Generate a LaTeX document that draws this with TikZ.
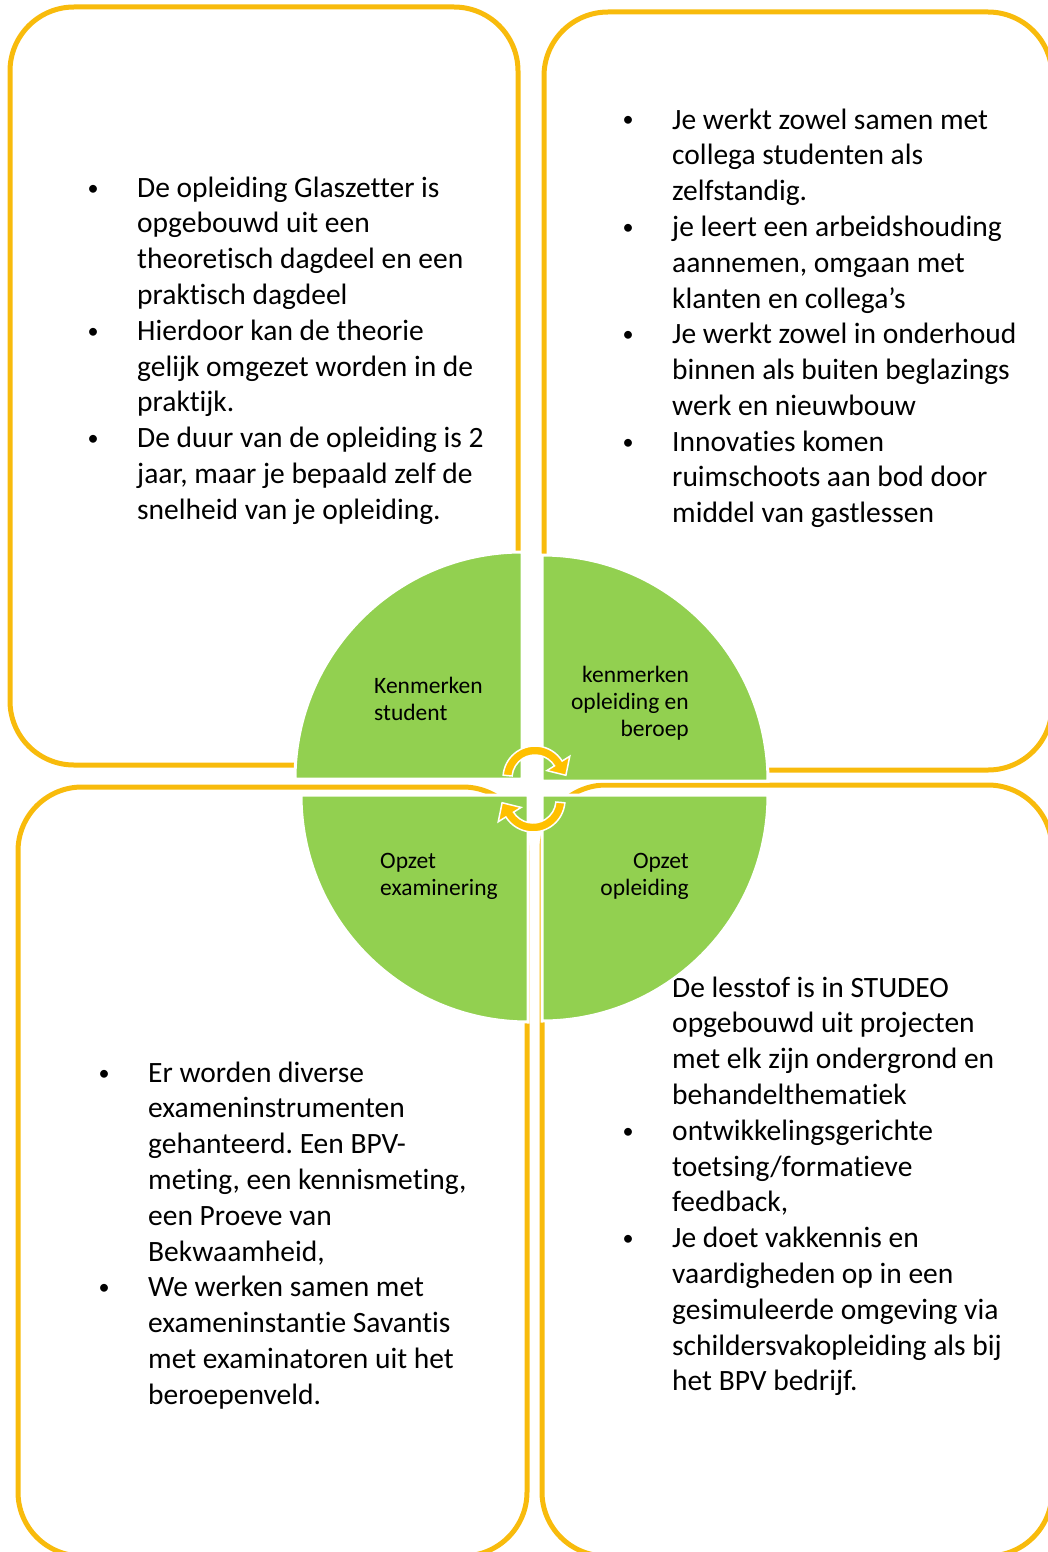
\documentclass[tikz,border=0pt]{standalone}
\usepackage{fontspec}
\setmainfont{Carlito}[Ligatures=NoCommon]
\usetikzlibrary{calc}
\definecolor{rim}{RGB}{248,187,12}
\definecolor{leaf}{HTML}{92D050}
\definecolor{turnc}{HTML}{FFC000}
\newcommand{\bul}{\makebox[88pt]{\raisebox{2pt}{\scalebox{0.75}{\textbullet}}}}
\frenchspacing

\begin{document}
\begin{tikzpicture}[x=1pt, y=-1pt,
    panel/.style={draw=rim, line width=5pt, rounded corners=64pt},
    body/.style={inner sep=0pt, font=\fontsize{29.5}{35.8}\selectfont},
    quarter/.style={fill=leaf, draw=white, line width=3pt},
    tag/.style={inner sep=0pt, font=\fontsize{23.5}{27}\selectfont},
    turn/.style={fill=turnc, draw=white, line width=1.5pt}]
    \useasboundingbox (0,0) rectangle (1048,1552);
    \clip (0,0) rectangle (1048,1552);

    \draw[panel] (10,7) rectangle (518,765);
    \draw[panel] (544,12) rectangle (1052,770);
    \draw[panel] (18,787) rectangle (527,1556);
    \draw[panel] (542,785) rectangle (1052,1556);

    \node[body, anchor=base west] (1) at (49,197) {\begin{tabular}[t]{@{}l@{}l@{}}
      \bul & De opleiding Glaszetter is\\
           & opgebouwd uit een\\
           & theoretisch dagdeel en een\\
           & praktisch dagdeel\\
      \bul & Hierdoor kan de theorie\\
           & gelijk omgezet worden in de\\
           & praktijk.\\
      \bul & De duur van de opleiding is 2\\
           & jaar, maar je bepaald zelf de\\
           & snelheid van je opleiding.
    \end{tabular}};
    \node[body, anchor=base west] (2) at (584,129) {\begin{tabular}[t]{@{}l@{}l@{}}
      \bul & Je werkt zowel samen met\\
           & collega studenten als\\
           & zelfstandig.\\
      \bul & je leert een arbeidshouding\\
           & aannemen, omgaan met\\
           & klanten en collega’s\\
      \bul & Je werkt zowel in onderhoud\\
           & binnen als buiten beglazings\\
           & werk en nieuwbouw\\
      \bul & Innovaties komen\\
           & ruimschoots aan bod door\\
           & middel van gastlessen
    \end{tabular}};
    \node[body, anchor=base west] (3) at (60,1082) {\begin{tabular}[t]{@{}l@{}l@{}}
      \bul & Er worden diverse\\
           & exameninstrumenten\\
           & gehanteerd. Een BPV-\\
           & meting, een kennismeting,\\
           & een Proeve van\\
           & Bekwaamheid,\\
      \bul & We werken samen met\\
           & exameninstantie Savantis\\
           & met examinatoren uit het\\
           & beroepenveld.
    \end{tabular}};
    \node[body, anchor=base west] (4) at (584,997) {\begin{tabular}[t]{@{}l@{}l@{}}
      \hspace{88pt} & De lesstof is in STUDEO\\
           & opgebouwd uit projecten\\
           & met elk zijn ondergrond en\\
           & behandelthematiek\\
      \bul & ontwikkelingsgerichte\\
           & toetsing/formatieve\\
           & feedback,\\
      \bul & Je doet vakkennis en\\
           & vaardigheden op in een\\
           & gesimuleerde omgeving via\\
           & schildersvakopleiding als bij\\
           & het BPV bedrijf.
    \end{tabular}};

    \draw[quarter] (522,779) -- (295,779) arc[start angle=180, end angle=270, radius=227] -- cycle;
    \draw[quarter] (542,781) -- (542,555) arc[start angle=270, end angle=360, radius=226] -- cycle;
    \draw[quarter] (528,795) -- (301,795) arc[start angle=180, end angle=90, radius=227] -- cycle;
    \draw[quarter] (542,795) -- (768,795) arc[start angle=0, end angle=90, radius=226] -- cycle;

    \node[tag, anchor=base west] (5) at (374,693) {\begin{tabular}[t]{@{}l@{}}Kenmerken\\student\end{tabular}};
    \node[tag, anchor=base east] (6) at (689,682) {\begin{tabular}[t]{@{}r@{}}kenmerken\\opleiding en\\beroep\end{tabular}};
    \node[tag, anchor=base west] (7) at (380,868) {\begin{tabular}[t]{@{}l@{}}Opzet\\examinering\end{tabular}};
    \node[tag, anchor=base east] (8) at (689,868) {\begin{tabular}[t]{@{}r@{}}Opzet\\opleiding\end{tabular}};

    \coordinate (c1) at (535,778);
    \coordinate (c2) at (533,800);
    \draw[turn] ($(c1)+(185:32)$) arc[start angle=185, end angle=328, radius=32]
      -- ($(c1)+(328:41)$) -- ($(c1)+(355:31)$) -- ($(c1)+(328:14)$)
      -- ($(c1)+(328:23)$) arc[start angle=328, end angle=185, radius=23] -- cycle;
    \draw[turn] ($(c2)+(5:32)$) arc[start angle=5, end angle=148, radius=32]
      -- ($(c2)+(148:41)$) -- ($(c2)+(175:31)$) -- ($(c2)+(148:14)$)
      -- ($(c2)+(148:23)$) arc[start angle=148, end angle=5, radius=23] -- cycle;
  \end{tikzpicture}
\end{document}
